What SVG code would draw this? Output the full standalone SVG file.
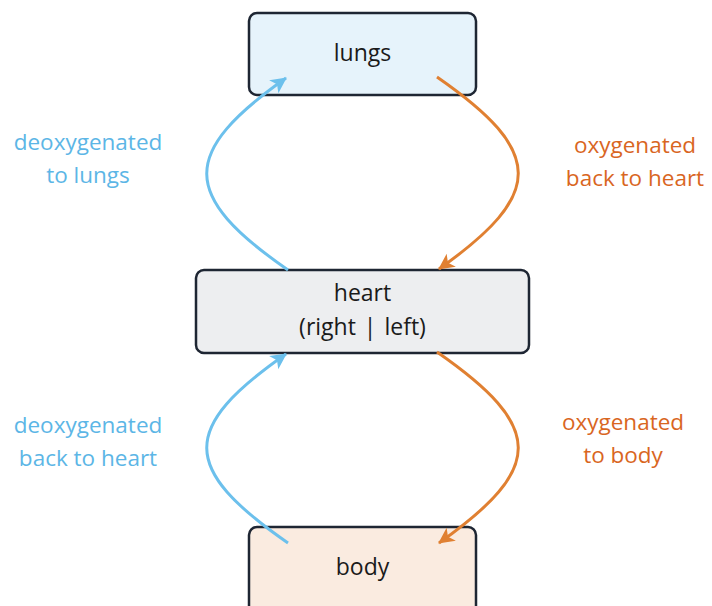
<svg xmlns="http://www.w3.org/2000/svg" width="712" height="606" viewBox="0 0 712 606">
<defs>
<style>
.node{stroke:#1e2633;stroke-width:2.5}
.nt{font-family:"Open Sans","Liberation Sans",sans-serif;font-size:23px;fill:#1a1a1a;text-anchor:middle}
.lb{font-family:"Open Sans","Liberation Sans",sans-serif;font-size:22.5px;text-anchor:middle}
.blue{fill:#5cb6e6}
.orange{fill:#d9661f}
.ab{fill:none;stroke:#6cc0ec;stroke-width:3}
.ao{fill:none;stroke:#e08032;stroke-width:3}
</style>
<marker id="mb" viewBox="-18 -9 20 18" refX="0" refY="0" markerWidth="20" markerHeight="18" markerUnits="userSpaceOnUse" orient="auto">
<path d="M1,0 L-15,-8 L-11,0 L-15,8 Z" fill="#6cc0ec"/>
</marker>
<marker id="mo" viewBox="-18 -9 20 18" refX="0" refY="0" markerWidth="20" markerHeight="18" markerUnits="userSpaceOnUse" orient="auto">
<path d="M1,0 L-15,-8 L-11,0 L-15,8 Z" fill="#e08032"/>
</marker>
</defs>
<rect width="712" height="606" fill="#ffffff"/>
<g id="lungs">
<rect class="node" x="249" y="13" width="227" height="82" rx="8" fill="#e6f3fb"/>
<text class="nt" x="362.5" y="61">lungs</text>
</g>
<g id="heart">
<rect class="node" x="196" y="270" width="333" height="83" rx="8" fill="#edeef0"/>
<text class="nt" x="362.5" y="301">heart</text>
<text class="nt" x="362.5" y="335" word-spacing="2">(right | left)</text>
</g>
<g id="body">
<rect class="node" x="249" y="527" width="227" height="90" rx="8" fill="#faebe0"/>
<text class="nt" x="362.5" y="575">body</text>
</g>
<g id="connectors">
<path class="ab" d="M288,270 C180,195 180,153 286,78" marker-end="url(#mb)"/>
<path class="ao" d="M437,77 C545,152 545,194 439,269" marker-end="url(#mo)"/>
<path class="ab" d="M288,543 C180,468 180,428 286,354" marker-end="url(#mb)"/>
<path class="ao" d="M437,352 C545,427 545,468 439,543" marker-end="url(#mo)"/>
</g>
<g id="labels">
<text class="lb blue" x="88" y="150">deoxygenated</text>
<text class="lb blue" x="88" y="183">to lungs</text>
<text class="lb orange" x="635" y="153">oxygenated</text>
<text class="lb orange" x="635" y="186">back to heart</text>
<text class="lb blue" x="88" y="433">deoxygenated</text>
<text class="lb blue" x="88" y="466">back to heart</text>
<text class="lb orange" x="623" y="430">oxygenated</text>
<text class="lb orange" x="623" y="463">to body</text>
</g>
</svg>
